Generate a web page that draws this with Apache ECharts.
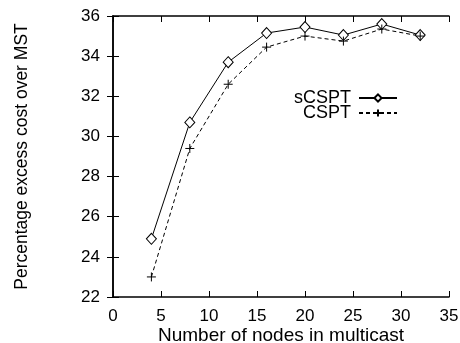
<!DOCTYPE html>
<html><head><meta charset="utf-8">
<script src="https://cdn.jsdelivr.net/npm/echarts@6/dist/echarts.min.js"></script>
<style>html,body{margin:0;padding:0;background:#fff}#c{width:460px;height:343px}</style>
</head><body><div id="c"></div>
<script>
var nodes = [4, 8, 12, 16, 20, 24, 28, 32];
var sCSPT = [24.9, 30.7, 33.7, 35.15, 35.45, 35.05, 35.6, 35.05];
var CSPT  = [23.0, 29.4, 32.6, 34.45, 35.0, 34.75, 35.35, 35.0];
var xTicks = [0, 5, 10, 15, 20, 25, 30, 35];
var yTicks = [22, 24, 26, 28, 30, 32, 34, 36];

var F = 'Liberation Sans';
var plus = 'path://M0,5L10,5M5,0L5,10';
function pairs(ys){ return nodes.map(function(x,i){ return [x, ys[i]]; }); }
var axisCommon = {
  axisLine: {show: true, lineStyle: {color: '#000', width: 1.5}},
  axisTick: {show: true, inside: true, length: 6, lineStyle: {color: '#000', width: 1}},
  splitLine: {show: false}
};
var chart = echarts.init(document.getElementById('c'), null, {renderer: 'canvas'});
chart.setOption({
  animation: false,
  backgroundColor: '#fff',
  grid: {left: 113, right: 11, top: 16, bottom: 46, show: false, containLabel: false, outerBoundsMode: 'none'},
  xAxis: [
    Object.assign({type: 'value', min: xTicks[0], max: xTicks[xTicks.length-1], interval: 5, position: 'bottom',
      name: 'Number of nodes in multicast', nameLocation: 'middle', nameGap: 29, nameMoveOverlap: false,
      nameTextStyle: {fontFamily: F, fontSize: 19, color: '#000'},
      axisLabel: {fontFamily: F, fontSize: 17, color: '#000', margin: 11}}, axisCommon),
    Object.assign({type: 'value', min: xTicks[0], max: xTicks[xTicks.length-1], interval: 5, position: 'top',
      axisLabel: {show: false}}, axisCommon)
  ],
  yAxis: [
    Object.assign({type: 'value', min: yTicks[0], max: yTicks[yTicks.length-1], interval: 2, position: 'left',
      name: 'Percentage excess cost over MST', nameLocation: 'middle', nameGap: 82, nameMoveOverlap: false,
      nameTextStyle: {fontFamily: F, fontSize: 17.5, color: '#000'},
      axisLabel: {fontFamily: F, fontSize: 17, color: '#000', margin: 13}}, axisCommon),
    Object.assign({type: 'value', min: yTicks[0], max: yTicks[yTicks.length-1], interval: 2, position: 'right',
      axisLabel: {show: false}}, axisCommon)
  ],
  legend: [
    {data: ['sCSPT'], right: 62, top: 89, padding: 0, align: 'right', itemWidth: 38, itemHeight: 9, itemGap: 0,
      textStyle: {fontFamily: F, fontSize: 18, color: '#000', padding: [0, 3, 0, 0]}},
    {data: ['CSPT'], right: 62, top: 104, padding: 0, align: 'right', itemWidth: 38, itemHeight: 9, itemGap: 0,
      textStyle: {fontFamily: F, fontSize: 18, color: '#000', padding: [0, 3, 0, 0]}}
  ],
  series: [
    {name: 'sCSPT', type: 'line', data: pairs(sCSPT), symbol: 'diamond', symbolSize: [10, 11],
      lineStyle: {color: '#000', width: 1}, itemStyle: {color: '#fff', borderColor: '#000', borderWidth: 1}},
    {name: 'CSPT', type: 'line', data: pairs(CSPT), symbol: plus, symbolSize: 9,
      lineStyle: {color: '#000', width: 1, type: [4, 3]}, itemStyle: {color: '#000', borderColor: '#000', borderWidth: 1}}
  ]
});
</script></body></html>
